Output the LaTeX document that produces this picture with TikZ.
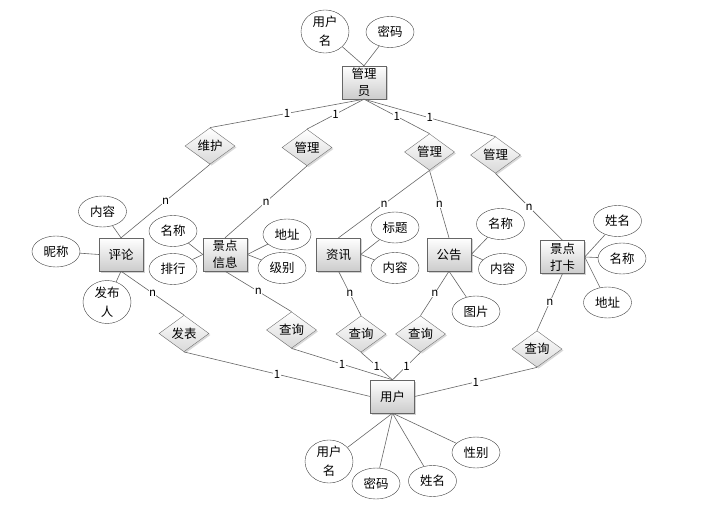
\documentclass[tikz,border=0pt]{standalone}
\usepackage{fontspec}
\newfontfamily\cjk{Noto Sans CJK SC}
\usetikzlibrary{shapes.geometric,shadows}
\tikzset{
    entity/.style={rectangle, draw=black!60, minimum width=44bp, minimum height=33bp, inner sep=0pt, align=center,
        top color=white, bottom color=black!20, drop shadow={shadow xshift=1.5bp, shadow yshift=-1.5bp, opacity=.35},
        font=\cjk\fontsize{12.5}{17}\selectfont},
    attrib/.style={ellipse, draw=black!75, fill=white, minimum width=48bp, minimum height=31bp, inner sep=0pt, align=center,
        font=\cjk\fontsize{12.5}{19}\selectfont},
    relation/.style={diamond, draw=black!55, minimum width=50bp, minimum height=30bp, inner sep=0pt,
        top color=white, bottom color=black!15, drop shadow={shadow xshift=1.5bp, shadow yshift=-1.5bp, opacity=.3},
        font=\cjk\fontsize{12.5}{14}\selectfont},
    conn/.style={draw=black!60, line width=.6pt},
    card/.style={fill=white, inner sep=.5pt, font=\cjk\fontsize{11.5}{12}\selectfont}
}
\begin{document}
\begin{tikzpicture}[x=1bp,y=-1bp]
        \useasboundingbox (0,0) rectangle (717,512);
        \node[entity] (admin) at (364,82.5) {管理\\员};
        \node[entity] (comment) at (121,254.5) {评论};
        \node[entity] (scenic) at (225,254.5) {景点\\信息};
        \node[entity] (news) at (338.5,254.5) {资讯};
        \node[entity] (notice) at (449,254.5) {公告};
        \node[entity] (checkin) at (562.5,257) {景点\\打卡};
        \node[entity] (user) at (392.5,396.5) {用户};

        \node[attrib] (adminname) at (325,31.5) {用户\\名};
        \node[attrib] (adminpwd) at (390,32) {密码};
        \node[attrib] (cmtcontent) at (102.5,211.5) {内容};
        \node[attrib] (cmtnick) at (56,251.5) {昵称};
        \node[attrib] (cmtauthor) at (107,302) {发布\\人};
        \node[attrib] (scname) at (173,231) {名称};
        \node[attrib] (scrank) at (173,269) {排行};
        \node[attrib] (scaddr) at (287,234.5) {地址};
        \node[attrib] (sclevel) at (282,268) {级别};
        \node[attrib] (newstitle) at (395,227.5) {标题};
        \node[attrib] (newscontent) at (395,268) {内容};
        \node[attrib] (ntname) at (500.5,224) {名称};
        \node[attrib] (ntcontent) at (502.5,269) {内容};
        \node[attrib] (ntpic) at (476,311.5) {图片};
        \node[attrib] (ckname) at (617.5,221) {姓名};
        \node[attrib] (cktitle) at (622,258.5) {名称};
        \node[attrib] (ckaddr) at (607.5,302.5) {地址};
        \node[attrib] (username) at (329,461.5) {用户\\名};
        \node[attrib] (userpwd) at (376,483.5) {密码};
        \node[attrib] (userreal) at (432.5,481) {姓名};
        \node[attrib] (usersex) at (476,452.5) {性别};

        \node[relation] (maintain) at (210,146) {维护};
        \node[relation] (mscenic) at (307,147.5) {管理};
        \node[relation] (minfo) at (429.5,152) {管理};
        \node[relation] (mcheckin) at (495.5,155) {管理};
        \node[relation] (publish) at (184,333.5) {发表};
        \node[relation] (qscenic) at (291.5,330) {查询};
        \node[relation] (qnews) at (361,334) {查询};
        \node[relation] (qnotice) at (420.5,334) {查询};
        \node[relation] (qcheckin) at (537,349) {查询};

        \draw[conn] (adminname) -- (admin.north);
        \draw[conn] (adminpwd) -- (admin.north);
        \draw[conn] (cmtcontent) -- (comment.north);
        \draw[conn] (cmtnick) -- (comment.west);
        \draw[conn] (cmtauthor) -- (comment.south);
        \draw[conn] (scname) -- (scenic.west);
        \draw[conn] (scrank) -- (scenic.west);
        \draw[conn] (scaddr) -- (scenic.east);
        \draw[conn] (sclevel) -- (scenic.east);
        \draw[conn] (newstitle) -- (news.east);
        \draw[conn] (newscontent) -- (news.east);
        \draw[conn] (ntname) -- (notice.east);
        \draw[conn] (ntcontent) -- (notice.east);
        \draw[conn] (ntpic) -- (notice.south);
        \draw[conn] (ckname) -- (checkin.east);
        \draw[conn] (cktitle) -- (checkin.east);
        \draw[conn] (ckaddr) -- (checkin.east);
        \draw[conn] (username) -- (user.south);
        \draw[conn] (userpwd) -- (user.south);
        \draw[conn] (userreal) -- (user.south);
        \draw[conn] (usersex) -- (user.south);

        \draw[conn] (admin.south) -- node[card] {1} (maintain.north);
        \draw[conn] (admin.south) -- node[card] {1} (mscenic.north);
        \draw[conn] (admin.south) -- node[card] {1} (minfo.north);
        \draw[conn] (admin.south) -- node[card] {1} (mcheckin.north);
        \draw[conn] (maintain.south) -- node[card] {n} (comment.north);
        \draw[conn] (mscenic.south) -- node[card] {n} (scenic.north);
        \draw[conn] (minfo.south) -- node[card] {n} (news.north);
        \draw[conn] (minfo.south) -- node[card] {n} (notice.north);
        \draw[conn] (mcheckin.south) -- node[card] {n} (checkin.north);

        \draw[conn] (comment.south) -- node[card] {n} (publish.north);
        \draw[conn] (scenic.south) -- node[card] {n} (qscenic.north);
        \draw[conn] (news.south) -- node[card] {n} (qnews.north);
        \draw[conn] (notice.south) -- node[card] {n} (qnotice.north);
        \draw[conn] (checkin.south) -- node[card] {n} (qcheckin.north);
        \draw[conn] (publish.south) -- node[card] {1} (user.west);
        \draw[conn] (qscenic.south) -- node[card] {1} (user.north);
        \draw[conn] (qnews.south) -- node[card] {1} (user.north);
        \draw[conn] (qnotice.south) -- node[card] {1} (user.north);
        \draw[conn] (qcheckin.south) -- node[card] {1} (user.east);
\end{tikzpicture}
\end{document}
